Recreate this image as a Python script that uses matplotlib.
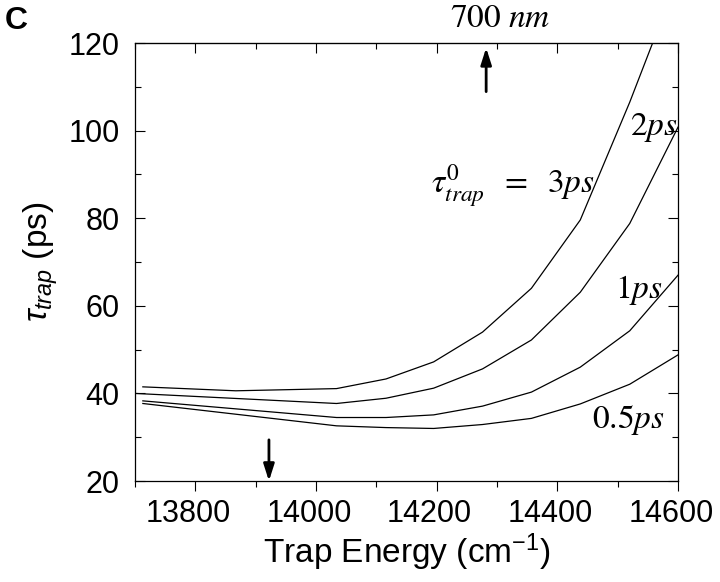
# -*- coding: utf-8 -*-
# Trap lifetime vs trap energy for several intrinsic trapping times (panel C)
import matplotlib
matplotlib.use("Agg")
import matplotlib.pyplot as plt
from matplotlib.ticker import MultipleLocator
from matplotlib.transforms import ScaledTranslation

# ============================================================================#
#                                   DATA                                      #
# ============================================================================#
# Trap energy (cm^-1) at the curve vertices
energy_a = [13713, 13867, 14034, 14116, 14195, 14276, 14357, 14438, 14520, 14600]
energy_b = [13700, 14034, 14116, 14195, 14276, 14357, 14438, 14520, 14600]
energy_c = [13713, 14034, 14116, 14195, 14276, 14357, 14438, 14520, 14600]
energy_d = [13713, 14034, 14116, 14195, 14276, 14357, 14438, 14520, 14600]

# tau_trap (ps) for tau0 = 3ps, 2ps, 1ps, 0.5ps
tau_3ps = [41.5, 40.6, 41.1, 43.3, 47.2, 54.0, 64.0, 79.6, 106.5, 135.0]
tau_2ps = [40.0, 37.7, 38.9, 41.2, 45.6, 52.2, 63.1, 78.8, 100.8]
tau_1ps = [38.3, 34.5, 34.5, 35.1, 37.1, 40.3, 46.0, 54.3, 67.0]
tau_05ps = [37.7, 32.6, 32.2, 32.0, 32.9, 34.3, 37.6, 42.1, 48.8]

# Arrow markers (cm^-1)
arrow_top = 14282     # ~700 nm
arrow_bottom = 13922

# ============================================================================#
#                                   PLOT                                      #
# ============================================================================#
plt.rcParams['font.family'] = ['Liberation Sans', 'DejaVu Sans']
plt.rcParams['mathtext.fontset'] = 'custom'
plt.rcParams['mathtext.rm'] = 'Liberation Sans'
plt.rcParams['mathtext.it'] = 'Liberation Sans:italic'

fig = plt.figure(figsize=(7.2, 5.82), dpi=100)
ax = fig.add_axes([0.1875, 0.1735, 0.7542, 0.7526])

for xs, ys in [(energy_a, tau_3ps), (energy_b, tau_2ps),
               (energy_c, tau_1ps), (energy_d, tau_05ps)]:
    ax.plot(xs, ys, color='black', lw=0.9)

ax.set_xlim(13700, 14600)
ax.set_ylim(20, 120)

# ticks
ax.xaxis.set_major_locator(MultipleLocator(200))
ax.xaxis.set_minor_locator(MultipleLocator(100))
ax.yaxis.set_major_locator(MultipleLocator(20))
ax.yaxis.set_minor_locator(MultipleLocator(10))
ax.tick_params(axis='x', which='both', direction='out', top=False)
ax.tick_params(axis='y', which='both', direction='in', right=True)
ax.tick_params(which='major', length=7, width=0.8, labelsize=22)
ax.tick_params(which='minor', length=4, width=0.8)
ax.tick_params(axis='x', pad=6)
ax.tick_params(axis='y', pad=11)

# x tick labels sit a little left of their ticks in the original
shift = ScaledTranslation(-0.07, 0, fig.dpi_scale_trans)
for lbl in ax.get_xticklabels():
    lbl.set_transform(lbl.get_transform() + shift)

# top ticks point inward
sec = ax.secondary_xaxis('top')
sec.xaxis.set_major_locator(MultipleLocator(200))
sec.xaxis.set_minor_locator(MultipleLocator(100))
sec.tick_params(which='both', direction='in', labeltop=False)
sec.tick_params(which='major', length=7, width=0.8)
sec.tick_params(which='minor', length=4, width=0.8)

for sp in ax.spines.values():
    sp.set_linewidth(0.9)

ax.set_xlabel(r'Trap Energy (cm$^{\mathregular{-1}}$)', fontsize=24, labelpad=2)
ax.set_ylabel(r'$\tau_{trap}$ (ps)', fontsize=24, labelpad=6)

# curve labels
lab = dict(fontsize=24, math_fontfamily='stix', color='black')
ax.text(14462, 86.0, r'$\tau^{0}_{trap}\;\ =\ \;3ps$', ha='right', va='baseline', **lab)
ax.text(14521, 99.0, r'$2ps$', ha='left', va='baseline', **lab)
ax.text(14496, 61.8, r'$1ps$', ha='left', va='baseline', **lab)
ax.text(14457, 32.1, r'$0.5ps$', ha='left', va='baseline', **lab)
ax.text(14222, 123.7, r'$700\ nm$', ha='left', va='baseline', clip_on=False, **lab)

# arrows
arrow_style = dict(arrowstyle='-|>,head_length=1.0,head_width=0.32', color='black',
                   lw=2, shrinkA=0, shrinkB=0)
ax.annotate('', xy=(arrow_top, 118.9), xytext=(arrow_top, 108.9), arrowprops=arrow_style)
ax.annotate('', xy=(arrow_bottom, 20), xytext=(arrow_bottom, 29.4), arrowprops=arrow_style)

# panel letter
fig.text(0.006, 0.99, 'C', fontsize=23, fontweight='bold', ha='left', va='top')

fig.savefig('out.png', dpi=100)
